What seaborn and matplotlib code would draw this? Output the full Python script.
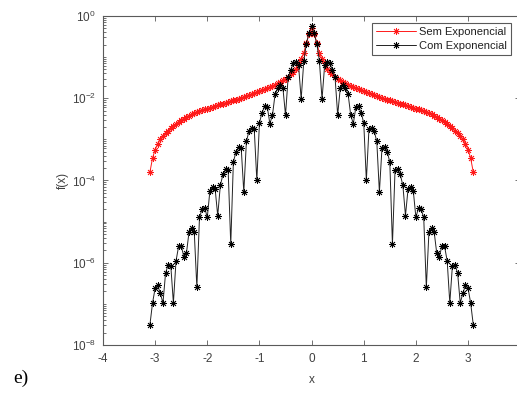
import matplotlib
matplotlib.use("Agg")
import matplotlib.pyplot as plt
import matplotlib.ticker as mticker
import numpy as np
import pandas as pd
import seaborn as sns

# =========================
# DATA
# =========================
x = np.linspace(-3.1, 3.1, 125)

sem_exp = [
    1.6e-4, 3.5e-4, 5.6e-4, 7.9e-4, 1.0e-3, 1.2e-3, 1.4e-3, 1.6e-3, 1.9e-3, 2.1e-3,
    2.4e-3, 2.7e-3, 3.0e-3, 3.2e-3, 3.5e-3, 3.8e-3, 4.1e-3, 4.4e-3, 4.6e-3, 4.9e-3,
    5.1e-3, 5.4e-3, 5.6e-3, 5.9e-3, 6.2e-3, 6.5e-3, 6.8e-3, 7.1e-3, 7.4e-3, 7.8e-3,
    8.1e-3, 8.5e-3, 8.9e-3, 9.3e-3, 9.8e-3, 1.02e-2, 1.07e-2, 1.12e-2, 1.20e-2, 1.26e-2,
    1.32e-2, 1.41e-2, 1.48e-2, 1.58e-2, 1.66e-2, 1.78e-2, 1.86e-2, 2.0e-2, 2.14e-2, 2.34e-2,
    2.5e-2, 2.75e-2, 3.0e-2, 3.3e-2, 3.8e-2, 4.4e-2, 5.2e-2, 7.1e-2, 8.9e-2, 1.26e-1,
    2.24e-1, 3.55e-1, 5.0e-1,
    3.55e-1, 2.24e-1, 1.26e-1, 8.9e-2, 7.1e-2, 5.2e-2, 4.4e-2, 3.8e-2, 3.3e-2, 3.0e-2,
    2.75e-2, 2.5e-2, 2.34e-2, 2.14e-2, 2.0e-2, 1.86e-2, 1.78e-2, 1.66e-2, 1.58e-2, 1.48e-2,
    1.41e-2, 1.32e-2, 1.26e-2, 1.20e-2, 1.12e-2, 1.07e-2, 1.02e-2, 9.8e-3, 9.3e-3, 8.9e-3,
    8.5e-3, 8.1e-3, 7.8e-3, 7.4e-3, 7.1e-3, 6.8e-3, 6.5e-3, 6.2e-3, 5.9e-3, 5.6e-3,
    5.4e-3, 5.1e-3, 4.9e-3, 4.6e-3, 4.4e-3, 4.1e-3, 3.8e-3, 3.5e-3, 3.2e-3, 3.0e-3,
    2.7e-3, 2.4e-3, 2.1e-3, 1.9e-3, 1.6e-3, 1.4e-3, 1.2e-3, 1.0e-3, 7.9e-4, 5.6e-4,
    3.5e-4, 1.6e-4,
]

com_exp = [
    3.1e-8, 1.05e-7, 2.4e-7, 2.8e-7, 1.8e-7, 1.05e-7, 5.6e-7, 8.9e-7, 8.5e-7, 1.05e-7,
    1.1e-6, 2.5e-6, 2.6e-6, 1.4e-6, 1.7e-6, 5.6e-6, 7.1e-6, 5.6e-6, 2.5e-7, 1.26e-5,
    2.0e-5, 2.2e-5, 1.26e-5, 5.6e-5, 7.1e-5, 6.3e-5, 1.4e-5, 7.6e-5, 1.4e-4, 1.9e-4,
    1.8e-4, 2.8e-6, 2.8e-4, 5.0e-4, 6.6e-4, 6.3e-4, 5.2e-5, 8.9e-4, 1.6e-3, 1.9e-3,
    1.8e-3, 1.0e-4, 2.5e-3, 4.5e-3, 6.3e-3, 6.2e-3, 2.4e-3, 3.9e-3, 1.26e-2, 1.74e-2,
    2.1e-2, 1.78e-2, 3.9e-3, 3.2e-2, 4.8e-2, 7.1e-2, 7.6e-2, 6.3e-2, 9.5e-3, 7.9e-2,
    2.14e-1, 3.8e-1, 5.75e-1,
    3.8e-1, 2.14e-1, 7.9e-2, 9.5e-3, 6.3e-2, 7.6e-2, 7.1e-2, 4.8e-2, 3.2e-2, 3.9e-3,
    1.78e-2, 2.1e-2, 1.74e-2, 1.26e-2, 3.9e-3, 2.4e-3, 6.2e-3, 6.3e-3, 4.5e-3, 2.5e-3,
    1.0e-4, 1.8e-3, 1.9e-3, 1.6e-3, 8.9e-4, 5.2e-5, 6.3e-4, 6.6e-4, 5.0e-4, 2.8e-4,
    2.8e-6, 1.8e-4, 1.9e-4, 1.4e-4, 7.6e-5, 1.4e-5, 6.3e-5, 7.1e-5, 5.6e-5, 1.26e-5,
    2.2e-5, 2.0e-5, 1.26e-5, 2.5e-7, 5.6e-6, 7.1e-6, 5.6e-6, 1.7e-6, 1.4e-6, 2.6e-6,
    2.5e-6, 1.1e-6, 1.05e-7, 8.5e-7, 8.9e-7, 5.6e-7, 1.05e-7, 1.8e-7, 2.8e-7, 2.4e-7,
    1.05e-7, 3.1e-8,
]

labels = ["Sem Exponencial", "Com Exponencial"]

# =========================
# STYLE
# =========================
sns.set_style("ticks")
plt.rcParams["font.family"] = ["Liberation Sans", "DejaVu Sans"]
plt.rcParams["mathtext.fontset"] = "custom"
plt.rcParams["mathtext.rm"] = "Liberation Sans"
plt.rcParams["axes.unicode_minus"] = False
plt.rcParams["xtick.direction"] = "in"
plt.rcParams["ytick.direction"] = "in"

text_col = "#404040"
axis_col = "#5a5a5a"
asterisk = (8, 2, 0)

fig = plt.figure(figsize=(5.17, 3.94), dpi=100)
ax = fig.add_axes([0.1992, 0.1244, 0.807, 0.835])

sns.lineplot(x=x, y=sem_exp, ax=ax, color="#ff1a1a", lw=0.7, marker=asterisk,
             markersize=5, markeredgewidth=0.6, markeredgecolor="#ff1a1a",
             estimator=None, sort=False, label=labels[0])
sns.lineplot(x=x, y=com_exp, ax=ax, color="#222222", lw=0.7, marker=asterisk,
             markersize=5, markeredgewidth=0.6, markeredgecolor="#000000",
             estimator=None, sort=False, label=labels[1])

ax.set_yscale("log")
ax.set_xlim(-4, 4)
ax.set_ylim(1e-8, 1e0)
ax.set_xticks(range(-4, 5))
ax.yaxis.set_major_locator(mticker.FixedLocator([1e-8, 1e-6, 1e-4, 1e-2, 1e0]))
ax.yaxis.set_minor_locator(mticker.LogLocator(base=10, subs=np.arange(1, 10), numticks=20))
ax.yaxis.set_minor_formatter(mticker.NullFormatter())

for side in ["top", "bottom", "left", "right"]:
    ax.spines[side].set_visible(True)
    ax.spines[side].set_color(axis_col)
    ax.spines[side].set_linewidth(0.8)

ax.tick_params(axis="both", which="both", top=True, right=True, colors=axis_col,
               labelcolor=text_col, labelsize=8.5, width=0.6)
ax.tick_params(axis="x", which="major", pad=6)
ax.tick_params(axis="y", which="major", pad=5)
ax.tick_params(axis="both", which="major", length=3.5)
ax.tick_params(axis="both", which="minor", length=2)

ax.set_xlabel("x", fontsize=8.5, color=text_col, labelpad=6)
ax.set_ylabel("f(x)", fontsize=8.5, color=text_col, labelpad=2)

leg = ax.legend(loc="upper right", bbox_to_anchor=(0.9884, 0.9416),
                bbox_transform=fig.transFigure, fontsize=8, frameon=True,
                fancybox=False, borderpad=0.35, labelspacing=0.35,
                handlelength=3.6, handletextpad=0.3, borderaxespad=0)
leg.get_frame().set_edgecolor("#303030")
leg.get_frame().set_linewidth(0.8)
for t in leg.get_texts():
    t.set_color("#202020")

fig.text(0.025, 0.028, "e)", fontsize=14, family="Liberation Serif", color="black")

fig.savefig("out.png", dpi=100)
